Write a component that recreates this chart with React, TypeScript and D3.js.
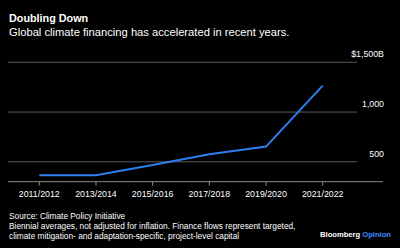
import React from "react";
import * as d3 from "d3";

// Biennial average global climate finance, billions of USD
const periods = ["2011/2012", "2013/2014", "2015/2016", "2017/2018", "2019/2020", "2021/2022"];
const finance = [365, 366, 468, 576, 653, 1265];
const yTicks = [500, 1000, 1500];
const yTickLabels = ["500", "1,000", "$1,500B"];

const W = 400;
const H = 248;
const FONT = "'Liberation Sans', Arial, Helvetica, sans-serif";

export default function App() {
  const x = d3.scalePoint<string>().domain(periods).range([39.3, 322.7]);
  const y = d3.scaleLinear().domain([300, 1500]).range([181.7, 62.3]);

  const line = d3
    .line<number>()
    .x((_, i) => x(periods[i]) as number)
    .y((d) => y(d));

  const axisY = y(300);

  return (
    <svg
      width={W}
      height={H}
      style={{ position: "absolute", left: 0, top: 0, background: "#000", fontFamily: FONT }}
    >
      <rect width={W} height={H} fill="#000" />
      <text x={9} y={22} fill="#fff" fontSize={10.8} fontWeight="bold">
        Doubling Down
      </text>
      <text x={9} y={36} fill="#fff" fontSize={11.2}>
        Global climate financing has accelerated in recent years.
      </text>

      {yTicks.map((t, i) => (
        <g key={t}>
          <line x1={8} x2={357} y1={y(t)} y2={y(t)} stroke="#5a5a5a" strokeWidth={1} />
          <text x={384} y={y(t) - 5} fill="#fff" fontSize={8.8} textAnchor="end">
            {yTickLabels[i]}
          </text>
        </g>
      ))}

      <line x1={8} x2={383} y1={axisY} y2={axisY} stroke="#8c8c8c" strokeWidth={1} />
      {periods.map((p) => (
        <g key={p}>
          <line x1={x(p)} x2={x(p)} y1={axisY} y2={axisY + 4} stroke="#8c8c8c" strokeWidth={1} />
          <text x={x(p)} y={197} fill="#fff" fontSize={8.8} textAnchor="middle">
            {p}
          </text>
        </g>
      ))}

      <path d={line(finance) ?? ""} fill="none" stroke="#2b7ff0" strokeWidth={2} strokeLinejoin="miter" />

      <text x={9} y={218.5} fill="#fff" fontSize={8.3}>
        Source: Climate Policy Initiative
      </text>
      <text x={9} y={228.5} fill="#fff" fontSize={8.3}>
        Biennial averages, not adjusted for inflation. Finance flows represent targeted,
      </text>
      <text x={9} y={238.5} fill="#fff" fontSize={8.3}>
        climate mitigation- and adaptation-specific, project-level capital
      </text>
      <text x={391} y={236.5} fontSize={7.6} fontWeight="bold" textAnchor="end">
        <tspan fill="#fff">Bloomberg </tspan>
        <tspan fill="#3b8cff">Opinion</tspan>
      </text>
    </svg>
  );
}
